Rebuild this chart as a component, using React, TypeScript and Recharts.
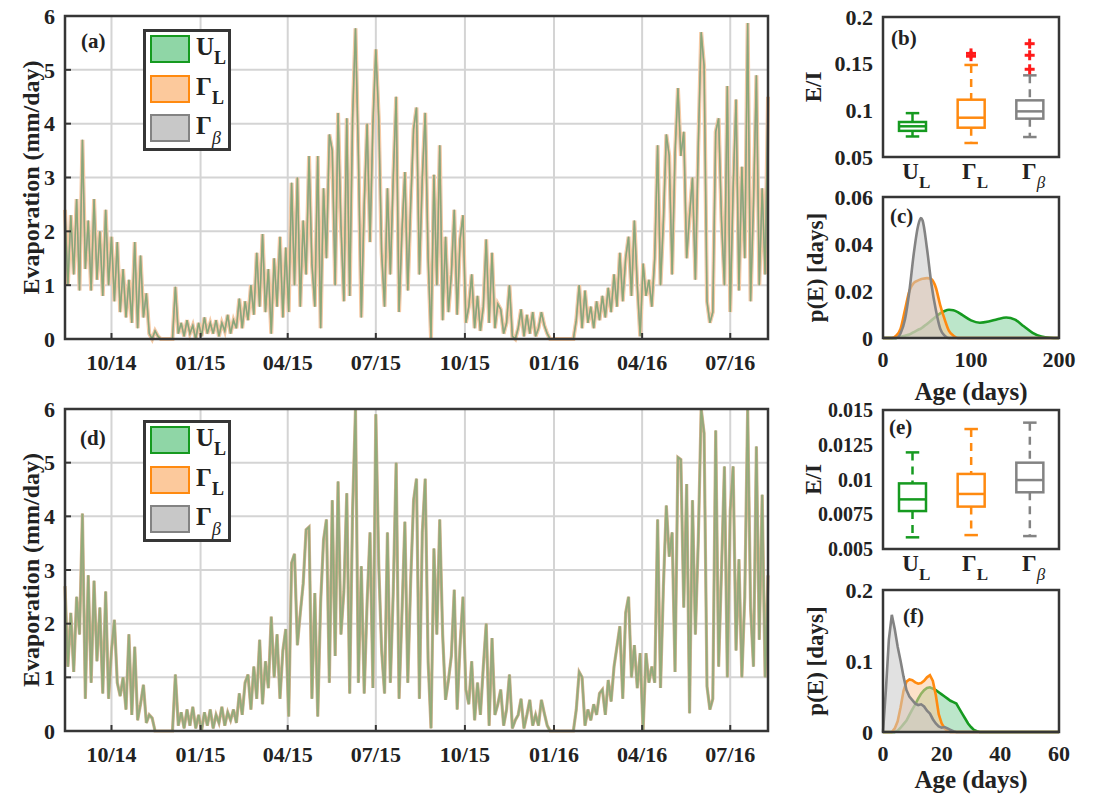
import {
  Area,
  AreaChart,
  Bar,
  CartesianGrid,
  ComposedChart,
  Line,
  LineChart,
  ReferenceArea,
  Scatter,
  XAxis,
  YAxis,
} from 'recharts';

// ---------------------------------------------------------------------------
// Data. Time series: one value every 3 days, day 0 = 14 Aug 2014.
// ---------------------------------------------------------------------------
const STEP_DAYS = 3;
const LAST_DAY = 726;
const quarterDays = [48, 140, 230, 321, 413, 505, 596, 687];
const quarterLabels = ['10/14', '01/15', '04/15', '07/15', '10/15', '01/16', '04/16', '07/16'];
const evapTicks = [0, 1, 2, 3, 4, 5, 6];

// panel (a)
const evapTop = [
  2.4, 1.0, 2.3, 1.2, 2.6, 0.9, 3.7, 1.3, 2.2, 0.9,
  2.6, 1.1, 2.0, 0.8, 2.4, 1.0, 1.9, 0.7, 1.8, 0.5,
  1.3, 0.4, 1.1, 0.3, 1.8, 0.2, 1.55, 0.4, 0.85, 0.1,
  0.0, 0.15, 0.05, 0, 0, 0, 0, 0, 0.97, 0.1,
  0.3, 0.05, 0.35, 0.1, 0.25, 0.0, 0.3, 0.05, 0.4, 0.1,
  0.3, 0.1, 0.35, 0.05, 0.3, 0.15, 0.45, 0.1, 0.35, 0.2,
  0.75, 0.2, 0.7, 0.35, 1.0, 0.45, 1.6, 0.6, 1.95, 0.5,
  1.3, 0.1, 1.5, 0.6, 1.9, 0.4, 1.7, 0.5, 2.9, 1.0,
  3.0, 0.6, 2.2, 1.2, 3.4, 1.4, 0.6, 3.4, 0.2, 2.8,
  1.5, 3.8, 3.5, 1.0, 4.2, 2.1, 0.7, 4.1, 0.8, 4.1,
  5.77, 3.4, 0.4, 2.5, 4.0, 1.8, 4.0, 5.38, 4.1, 1.6,
  0.6, 2.8, 1.2, 3.0, 4.5, 0.5, 2.0, 3.1, 0.9, 2.5,
  3.9, 4.3, 1.2, 3.0, 4.2, 1.5, 0.0, 3.05, 1.0, 3.6,
  0.35, 1.9, 0.5, 1.2, 2.4, 0.45, 1.85, 2.3, 0.3, 0.6,
  1.2, 0.2, 0.8, 0.15, 0.6, 1.85, 0.3, 1.6, 0.2, 0.65,
  0.55, 0.1, 0.3, 1.0, 0.05, 0.0, 0.2, 0.55, 0.05, 0.45,
  0.1, 0.5, 0.05, 0.2, 0.5, 0.25, 0.1, 0, 0, 0,
  0, 0, 0, 0, 0, 0, 0.35, 1.0, 0.2, 0.9,
  0.3, 0.6, 0.2, 0.7, 0.35, 0.8, 0.4, 0.95, 0.5, 1.2,
  0.6, 1.6, 0.7, 1.5, 1.9, 0.8, 2.2, 1.0, 0.05, 1.4,
  0.8, 1.1, 0.6, 1.5, 3.6, 1.0, 2.2, 3.8, 3.4, 1.2,
  3.45, 4.66, 3.4, 3.85, 1.5, 2.3, 3.0, 1.1, 3.6, 5.7,
  5.07, 0.7, 0.3, 0.5, 3.85, 4.1, 2.2, 1.0, 4.7, 0.5,
  2.8, 4.45, 0.9, 3.2, 1.5, 5.87, 0.7, 2.5, 4.9, 1.0,
  2.8, 1.2, 4.5,
];

// panel (d)
const evapBottom = [
  2.7, 1.2, 2.2, 1.1, 2.5, 1.8, 4.05, 0.6, 2.9, 0.9,
  2.8, 1.3, 2.3, 0.7, 2.6, 0.6, 1.5, 2.07, 0.9, 0.65,
  1.0, 0.4, 1.8, 0.3, 1.57, 0.2, 0.5, 0.86, 0.15, 0.3,
  0.24, 0.0, 0, 0, 0, 0, 0, 0, 1.05, 0.1,
  0.35, 0.05, 0.4, 0.1, 0.45, 0.05, 0.3, 0.0, 0.35, 0.1,
  0.4, 0.05, 0.3, 0.15, 0.45, 0.1, 0.35, 0.2, 0.4, 0.15,
  0.7, 0.3, 0.9, 1.05, 0.4, 1.2, 0.6, 1.7, 0.5, 1.3,
  0.8, 2.13, 1.0, 1.8, 0.6, 1.5, 1.9, 0.27, 3.13, 3.3,
  1.6, 2.2, 2.75, 3.75, 3.8, 0.6, 2.57, 0.27, 2.4, 3.56,
  3.94, 0.9, 4.3, 1.4, 4.65, 1.8, 2.6, 4.43, 0.7, 4.12,
  6.0, 0.9, 3.07, 0.7, 2.4, 3.7, 0.8, 5.9, 3.1, 1.5,
  0.7, 3.7, 0.9, 2.6, 5.0, 0.6, 2.2, 3.9, 0.9, 2.8,
  4.3, 4.7, 0.6, 3.7, 4.7, 1.3, 0.05, 3.4, 1.8, 3.94,
  1.8, 0.58, 0.95, 1.4, 2.63, 0.4, 1.6, 2.5, 0.77, 0.5,
  1.3, 0.2, 0.9, 0.3, 1.2, 2.0, 0.1, 1.73, 0.3, 0.5,
  0.77, 0.1, 0.4, 1.05, 0.05, 0.2, 0.3, 0.6, 0.05, 0.3,
  0.58, 0.1, 0.3, 0.1, 0.58, 0.33, 0.1, 0, 0, 0,
  0, 0, 0, 0, 0, 0, 0.4, 1.1, 1.0, 0.1,
  0.4, 0.2, 0.5, 0.3, 0.7, 0.77, 0.3, 0.95, 0.55, 1.2,
  1.57, 1.95, 0.6, 2.2, 2.5, 1.0, 1.6, 0.8, 1.45, 0.0,
  1.45, 0.9, 1.2, 0.9, 3.94, 0.8, 2.7, 4.2, 3.25, 3.7,
  1.1, 5.1, 5.06, 2.3, 4.6, 0.33, 4.3, 1.8, 3.56, 6.0,
  5.55, 0.83, 0.4, 0.6, 5.6, 1.2, 3.0, 4.93, 1.0, 4.1,
  4.93, 1.5, 3.2, 1.0, 2.5, 6.0, 2.3, 1.2, 5.3, 1.7,
  4.4, 1.0, 2.9,
];

// E/I box plots (b) and (e)
const boxKeys = ['UL', 'GL', 'GB'];
const ratioTopLow = [0.072, 0.065, 0.0714];
const ratioTopQ1 = [0.078, 0.0814, 0.0911];
const ratioTopMed = [0.0829, 0.0921, 0.0989];
const ratioTopQ3 = [0.0875, 0.1114, 0.1107];
const ratioTopHigh = [0.097, 0.1486, 0.1375];
const ratioTopOutliers = [[], [0.158, 0.161], [0.144, 0.159, 0.1714]];

const ratioBottomLow = [0.00584, 0.006, 0.00593];
const ratioBottomQ1 = [0.00773, 0.00805, 0.00908];
const ratioBottomMed = [0.00857, 0.00896, 0.00996];
const ratioBottomQ3 = [0.00972, 0.0104, 0.01121];
const ratioBottomHigh = [0.01195, 0.01363, 0.01409];
const ratioBottomOutliers = [[], [], []];

// age densities (c) and (f)
const ageTop = [0, 10, 15, 20, 25, 30, 35, 40, 43, 45, 50, 55, 60, 65, 70, 75, 80, 85, 90, 100, 110, 120, 130, 140, 150, 160, 170, 180, 190, 200];
const pdfTopUL = [0, 0, 0, 0.0005, 0.001, 0.0015, 0.0025, 0.0035, 0.004, 0.0045, 0.006, 0.0075, 0.009, 0.0105, 0.0115, 0.012, 0.0118, 0.011, 0.0098, 0.0075, 0.0065, 0.007, 0.008, 0.0087, 0.0078, 0.005, 0.0022, 0.0006, 0.0001, 0];
const pdfTopGL = [0, 0, 0.001, 0.004, 0.012, 0.02, 0.0235, 0.0245, 0.025, 0.0252, 0.0255, 0.025, 0.0215, 0.014, 0.008, 0.003, 0.001, 0, 0, 0, 0, 0, 0, 0, 0, 0, 0, 0, 0, 0];
const pdfTopGB = [0, 0, 0, 0.002, 0.008, 0.02, 0.036, 0.048, 0.051, 0.05, 0.038, 0.023, 0.012, 0.004, 0.001, 0, 0, 0, 0, 0, 0, 0, 0, 0, 0, 0, 0, 0, 0, 0];

const ageBottom = [0, 1, 2, 3, 4, 5, 6, 7, 8, 9, 10, 11, 12, 13, 14, 15, 16, 17, 18, 19, 20, 21, 22, 23, 24, 25, 26, 27, 28, 29, 30, 31, 32, 33, 40, 50, 60];
const pdfBottomUL = [
  0, 0, 0, 0, 0, 0.002, 0.006, 0.011, 0.016, 0.024,
  0.032, 0.039, 0.047, 0.054, 0.059, 0.062, 0.063, 0.061, 0.059, 0.056,
  0.053, 0.05, 0.047, 0.044, 0.042, 0.04, 0.033, 0.026, 0.019, 0.012,
  0.007, 0.003, 0.001, 0, 0, 0, 0,
];
const pdfBottomGL = [
  0, 0, 0, 0, 0.005, 0.015, 0.035, 0.058, 0.071, 0.074,
  0.073, 0.07, 0.068, 0.069, 0.072, 0.077, 0.08, 0.072, 0.052, 0.025,
  0.012, 0.005, 0.001, 0, 0, 0, 0, 0, 0, 0,
  0, 0, 0, 0, 0, 0, 0,
];
const pdfBottomGB = [
  0, 0.06, 0.13, 0.165, 0.145, 0.12, 0.1, 0.078, 0.059, 0.05,
  0.045, 0.04, 0.038, 0.039, 0.036, 0.03, 0.026, 0.018, 0.012, 0.008,
  0.006, 0.007, 0.005, 0.003, 0.001, 0, 0, 0, 0, 0,
  0, 0, 0, 0, 0, 0, 0,
];

// ---------------------------------------------------------------------------
// Styling
// ---------------------------------------------------------------------------
const FONT = '"Liberation Serif", "Times New Roman", serif';
const INK = '#222222';
const FRAME = '#363636';
const GRID = '#d4d4d4';

const lineColor = { UL: '#169a20', GL: '#ff8a10', GB: '#838383' };
const areaFill = { UL: '#8fd6a6', GL: '#fcc99c', GB: '#c8c8c8' };
const subLabel = {
  UL: { main: 'U', sub: 'L', greek: false },
  GL: { main: 'Γ', sub: 'L', greek: false },
  GB: { main: 'Γ', sub: 'β', greek: true },
};

const tickFont = (size: number) => ({ fill: INK, fontSize: size, fontWeight: 700, fontFamily: FONT });
const axisTitle = (value: string, offset: number, extra: object = {}) => ({
  value,
  offset,
  fill: INK,
  fontSize: 24,
  fontWeight: 700,
  fontFamily: FONT,
  style: { textAnchor: 'middle' },
  ...extra,
});

// svg text otherwise falls back to a sans face
const svgFontCss = `.recharts-wrapper text, .recharts-wrapper tspan { font-family: "Liberation Serif", "Times New Roman", serif !important; }`;

const PAD_TOP = 15;
const PAD_RIGHT = 22;
const TS_LEFT = 65;
const TS_W = 703;
const R_LEFT = 800;
const R_YW = 83;
const R_W = 176;

// ---------------------------------------------------------------------------
// Panels
// ---------------------------------------------------------------------------
function TimeSeriesPanel({ top, plotH, values, look }: any) {
  const rows = values.map((v: number, i: number) => ({ day: i * STEP_DAYS, ul: v, gl: v, gb: v }));
  return (
    <div style={{ position: 'absolute', left: 0, top: top - PAD_TOP }}>
      <LineChart
        width={TS_LEFT + TS_W + PAD_RIGHT}
        height={PAD_TOP + plotH + 45}
        data={rows}
        margin={{ top: PAD_TOP, right: PAD_RIGHT, bottom: 0, left: 0 }}
      >
        <CartesianGrid stroke={GRID} strokeWidth={2} />
        <XAxis
          type="number"
          dataKey="day"
          domain={[0, LAST_DAY]}
          ticks={quarterDays}
          interval={0}
          tickFormatter={(d: number) => quarterLabels[quarterDays.indexOf(d)]}
          height={45}
          axisLine={false}
          tickSize={-6}
          tickMargin={21}
          tickLine={{ stroke: FRAME, strokeWidth: 2 }}
          tick={tickFont(22)}
        />
        <YAxis
          type="number"
          domain={[0, 6]}
          ticks={evapTicks}
          interval={0}
          width={TS_LEFT}
          axisLine={false}
          tickSize={-6}
          tickMargin={16}
          tickLine={{ stroke: FRAME, strokeWidth: 2 }}
          tick={tickFont(22)}
          label={axisTitle('Evaporation (mm/day)', 30, { angle: -90, position: 'insideLeft' })}
        />
        <Line type="linear" dataKey="gl" stroke={look.orange} strokeWidth={look.orangeW} strokeLinejoin="miter" dot={false} isAnimationActive={false} />
        <Line type="linear" dataKey="gb" stroke={look.gray} strokeWidth={look.grayW} dot={false} isAnimationActive={false} />
        <Line type="linear" dataKey="ul" stroke={look.green} strokeWidth={look.greenW} strokeOpacity={0.85} dot={false} isAnimationActive={false} />
        <ReferenceArea y1={0} y2={6} fill="none" stroke={FRAME} strokeWidth={2.5} zIndex={1000} />
      </LineChart>
    </div>
  );
}

function BoxShape(props: any) {
  const { x, y, width, height, payload } = props;
  if (!payload || !Number.isFinite(y)) return <g />;
  const color = lineColor[payload.cat as keyof typeof lineColor];
  const boxTop = Math.min(y, y + height);
  const boxH = Math.abs(height);
  const k = boxH / (payload.q3 - payload.q1);
  const py = (v: number) => boxTop + (payload.q3 - v) * k;
  const cx = x + width / 2;
  const cap = width / 4;
  return (
    <g stroke={color} strokeWidth={2.5} fill="none">
      <line x1={cx} x2={cx} y1={py(payload.hi)} y2={boxTop} strokeDasharray="8 6" />
      <line x1={cx} x2={cx} y1={boxTop + boxH} y2={py(payload.lo)} strokeDasharray="8 6" />
      <line x1={cx - cap} x2={cx + cap} y1={py(payload.hi)} y2={py(payload.hi)} />
      <line x1={cx - cap} x2={cx + cap} y1={py(payload.lo)} y2={py(payload.lo)} />
      <rect x={x} y={boxTop} width={width} height={boxH} />
      <line x1={x} x2={x + width} y1={py(payload.med)} y2={py(payload.med)} />
    </g>
  );
}

function PlusShape(props: any) {
  const { cx, cy, node } = props;
  if (!Number.isFinite(cx) || !Number.isFinite(cy) || node?.y == null) return <g />;
  return (
    <g stroke="#ff1a1a" strokeWidth={3}>
      <line x1={cx - 5} x2={cx + 5} y1={cy} y2={cy} />
      <line x1={cx} x2={cx} y1={cy - 5} y2={cy + 5} />
    </g>
  );
}

function BoxTick({ x, y, payload }: any) {
  const t = subLabel[payload.value as keyof typeof subLabel];
  return (
    <text x={x + 4} y={y + 14} textAnchor="middle" fontFamily={FONT} fontSize={23} fontWeight={700} fill={INK}>
      {t.main}
      <tspan
        dy={9}
        fontSize={17}
        fontWeight={t.greek ? 400 : 700}
        fontStyle={t.greek ? 'italic' : 'normal'}
      >
        {t.sub}
      </tspan>
    </text>
  );
}

function BoxPanel({ top, plotH, lows, q1s, meds, q3s, highs, outliers, domain, ticks, tickSize }: any) {
  const rows = boxKeys.map((cat, i) => ({
    cat,
    box: [q1s[i], q3s[i]],
    lo: lows[i],
    q1: q1s[i],
    med: meds[i],
    q3: q3s[i],
    hi: highs[i],
    o0: outliers[i][0] ?? null,
    o1: outliers[i][1] ?? null,
    o2: outliers[i][2] ?? null,
  }));
  return (
    <div style={{ position: 'absolute', left: R_LEFT, top: top - PAD_TOP }}>
      <ComposedChart
        width={R_YW + R_W + PAD_RIGHT}
        height={PAD_TOP + plotH + 45}
        data={rows}
        margin={{ top: PAD_TOP, right: PAD_RIGHT, bottom: 0, left: 0 }}
      >
        <XAxis dataKey="cat" height={45} axisLine={false} tickLine={false} interval={0} tick={<BoxTick />} />
        <YAxis
          type="number"
          domain={domain}
          ticks={ticks}
          interval={0}
          width={R_YW}
          axisLine={false}
          tickLine={false}
          tickSize={0}
          tickMargin={10}
          tick={tickFont(tickSize)}
          label={axisTitle('E/I', 13, { angle: -90, position: 'insideLeft', fontSize: 23 })}
        />
        <Bar dataKey="box" barSize={27} shape={<BoxShape />} isAnimationActive={false} />
        <Scatter dataKey="o0" shape={<PlusShape />} isAnimationActive={false} />
        <Scatter dataKey="o1" shape={<PlusShape />} isAnimationActive={false} />
        <Scatter dataKey="o2" shape={<PlusShape />} isAnimationActive={false} />
        <ReferenceArea y1={domain[0]} y2={domain[1]} fill="none" stroke={FRAME} strokeWidth={2.5} zIndex={1000} />
      </ComposedChart>
    </div>
  );
}

function DensityPanel({ top, plotH, axisH, ages, ul, gl, gb, xMax, xTicks, yMax, yTicks, curve }: any) {
  const rows = ages.map((a: number, i: number) => ({ age: a, ul: ul[i], gl: gl[i], gb: gb[i] }));
  return (
    <div style={{ position: 'absolute', left: R_LEFT, top: top - PAD_TOP }}>
      <AreaChart
        width={R_YW + R_W + PAD_RIGHT}
        height={PAD_TOP + plotH + axisH}
        data={rows}
        margin={{ top: PAD_TOP, right: PAD_RIGHT, bottom: 0, left: 0 }}
      >
        <XAxis
          type="number"
          dataKey="age"
          domain={[0, xMax]}
          ticks={xTicks}
          interval={0}
          height={axisH}
          axisLine={false}
          tickLine={false}
          tickSize={0}
          tickMargin={13}
          tick={tickFont(22)}
          label={axisTitle('Age (days)', 8, { position: 'insideBottom', fontSize: 25 })}
        />
        <YAxis
          type="number"
          domain={[0, yMax]}
          ticks={yTicks}
          interval={0}
          width={R_YW}
          axisLine={false}
          tickLine={false}
          tickSize={0}
          tickMargin={10}
          tick={tickFont(22)}
          label={axisTitle('p(E) [days]', 15, { angle: -90, position: 'insideLeft', fontSize: 23 })}
        />
        <Area type={curve} dataKey="ul" stroke={lineColor.UL} strokeWidth={2.6} fill={areaFill.UL} fillOpacity={0.6} isAnimationActive={false} />
        <Area type={curve} dataKey="gl" stroke={lineColor.GL} strokeWidth={2.6} fill={areaFill.GL} fillOpacity={0.55} isAnimationActive={false} />
        <Area type={curve} dataKey="gb" stroke={lineColor.GB} strokeWidth={2.6} fill={areaFill.GB} fillOpacity={0.55} isAnimationActive={false} />
        <ReferenceArea y1={0} y2={yMax} fill="none" stroke={FRAME} strokeWidth={2.5} zIndex={1000} />
      </AreaChart>
    </div>
  );
}

function SeriesLegend({ left, top }: { left: number; top: number }) {
  return (
    <div
      style={{
        position: 'absolute',
        left,
        top,
        width: 88,
        height: 122,
        boxSizing: 'border-box',
        border: `3px solid ${FRAME}`,
        background: '#fff',
        zIndex: 3,
      }}
    >
      {boxKeys.map((key, i) => {
        const t = subLabel[key as keyof typeof subLabel];
        return (
          <div key={key} style={{ position: 'absolute', left: 4, top: 3 + i * 39.7, height: 28, width: 80 }}>
            <div
              style={{
                position: 'absolute',
                left: 0,
                top: 0,
                width: 40,
                height: 28,
                boxSizing: 'border-box',
                border: `2.5px solid ${lineColor[key as keyof typeof lineColor]}`,
                background: areaFill[key as keyof typeof areaFill],
              }}
            />
            <div
              style={{
                position: 'absolute',
                left: 46,
                top: 0,
                fontFamily: FONT,
                fontWeight: 700,
                fontSize: 25,
                lineHeight: '24px',
                color: INK,
                whiteSpace: 'nowrap',
              }}
            >
              {t.main}
              <span
                style={{
                  position: 'relative',
                  top: t.greek ? 10 : 9,
                  fontSize: 18,
                  fontWeight: t.greek ? 400 : 700,
                  fontStyle: t.greek ? 'italic' : 'normal',
                }}
              >
                {t.sub}
              </span>
            </div>
          </div>
        );
      })}
    </div>
  );
}

function PanelTag({ left, top, text }: { left: number; top: number; text: string }) {
  return (
    <div
      style={{
        position: 'absolute',
        left,
        top,
        fontFamily: FONT,
        fontWeight: 700,
        fontSize: 21,
        lineHeight: '21px',
        color: INK,
        zIndex: 3,
      }}
    >
      {text}
    </div>
  );
}

export default function App() {
  return (
    <div
      style={{
        position: 'fixed',
        left: 0,
        top: 0,
        width: 1093,
        height: 796,
        background: '#ffffff',
        overflow: 'hidden',
        fontFamily: FONT,
      }}
    >
      <style>{svgFontCss}</style>
      <TimeSeriesPanel
        top={16}
        plotH={323}
        values={evapTop}
        look={{ orange: '#f5caa5', orangeW: 4, gray: '#a5a5a5', grayW: 1.6, green: '#84a86d', greenW: 1.3 }}
      />
      <TimeSeriesPanel
        top={409}
        plotH={322}
        values={evapBottom}
        look={{ orange: '#d8b98f', orangeW: 3.2, gray: '#aaa589', grayW: 2.2, green: '#8cae76', greenW: 1.2 }}
      />
      <BoxPanel
        top={17}
        plotH={140}
        lows={ratioTopLow}
        q1s={ratioTopQ1}
        meds={ratioTopMed}
        q3s={ratioTopQ3}
        highs={ratioTopHigh}
        outliers={ratioTopOutliers}
        domain={[0.05, 0.2]}
        ticks={[0.05, 0.1, 0.15, 0.2]}
        tickSize={22}
      />
      <DensityPanel
        top={197}
        plotH={141}
        axisH={70}
        ages={ageTop}
        ul={pdfTopUL}
        gl={pdfTopGL}
        gb={pdfTopGB}
        xMax={200}
        xTicks={[0, 100, 200]}
        yMax={0.06}
        yTicks={[0, 0.02, 0.04, 0.06]}
        curve="monotone"
      />
      <BoxPanel
        top={410}
        plotH={139}
        lows={ratioBottomLow}
        q1s={ratioBottomQ1}
        meds={ratioBottomMed}
        q3s={ratioBottomQ3}
        highs={ratioBottomHigh}
        outliers={ratioBottomOutliers}
        domain={[0.005, 0.015]}
        ticks={[0.005, 0.0075, 0.01, 0.0125, 0.015]}
        tickSize={20}
      />
      <DensityPanel
        top={590}
        plotH={142}
        axisH={64}
        ages={ageBottom}
        ul={pdfBottomUL}
        gl={pdfBottomGL}
        gb={pdfBottomGB}
        xMax={60}
        xTicks={[0, 20, 40, 60]}
        yMax={0.2}
        yTicks={[0, 0.1, 0.2]}
        curve="linear"
      />
      <SeriesLegend left={143} top={29} />
      <SeriesLegend left={143} top={420} />
      <PanelTag left={81} top={31} text="(a)" />
      <PanelTag left={80} top={428} text="(d)" />
      <PanelTag left={891} top={28} text="(b)" />
      <PanelTag left={890} top={206} text="(c)" />
      <PanelTag left={889} top={417} text="(e)" />
      <PanelTag left={903} top={606} text="(f)" />
    </div>
  );
}
